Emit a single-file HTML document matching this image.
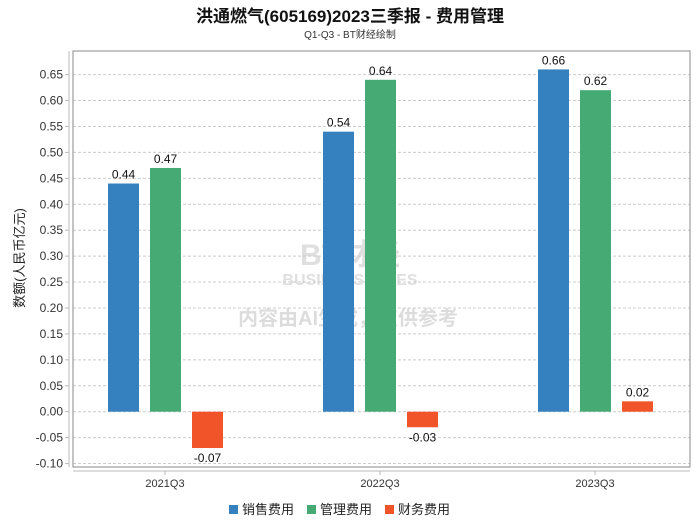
<!DOCTYPE html>
<html><head><meta charset="utf-8"><style>
body{margin:0;background:#fff;font-family:"Liberation Sans","Noto Sans CJK SC",sans-serif}
</style></head><body>
<svg width="700" height="524" xmlns="http://www.w3.org/2000/svg" id="c" font-family="Liberation Sans, Noto Sans CJK SC, sans-serif">
<text x="350" y="22" text-anchor="middle" font-size="17" font-weight="bold" fill="#111">洪通燃气(605169)2023三季报 - 费用管理</text>
<text x="350" y="38" text-anchor="middle" font-size="10" fill="#333">Q1-Q3 - BT财经绘制</text>
<g opacity="0.18">
<text x="350" y="265" text-anchor="middle" font-size="30" font-weight="bold" fill="#555">BT财经</text>
<text x="350" y="285" text-anchor="middle" font-size="16" font-weight="bold" fill="#555">BUSINESS TIMES</text>
<text x="348" y="325" text-anchor="middle" font-size="20" font-weight="bold" fill="#444">内容由AI生成，仅供参考</text>
</g>
<text transform="translate(24,258) rotate(-90)" text-anchor="middle" font-size="13" fill="#222">数额(人民币亿元)</text>
<g id="grid"></g><g id="bars"></g>
<rect x="73" y="51" width="617" height="416" fill="none" stroke="#888"/>
<line x1="69" y1="51" x2="69" y2="467" stroke="#bbb"/>
<line x1="73" y1="471" x2="690" y2="471" stroke="#bbb"/>
<g id="legend" font-size="13" fill="#222"></g>
</svg>
<script>
const categories=["2021Q3","2022Q3","2023Q3"];
const seriesNames=["销售费用","管理费用","财务费用"];
const sales=[0.44,0.54,0.66];
const admin=[0.47,0.64,0.62];
const finance=[-0.07,-0.03,0.02];
const yTicks=[-0.10,-0.05,0.00,0.05,0.10,0.15,0.20,0.25,0.30,0.35,0.40,0.45,0.50,0.55,0.60,0.65];
const colors=["#3580BE","#45AA74","#F05428"];
const NS="http://www.w3.org/2000/svg";
const y=v=>411.7-(v/0.05)*25.93;
const x=i=>165+215*i;
function mk(t,a,p){const e=document.createElementNS(NS,t);for(const k in a)e.setAttribute(k,a[k]);p.appendChild(e);return e;}
const grid=document.getElementById('grid');
yTicks.forEach(v=>{
 const l=mk('line',{x1:73,x2:690,y1:y(v),y2:y(v),stroke:'#ccc','stroke-dasharray':'3,2'},grid);
 
 
 const t=mk('text',{x:63,y:y(v)+4,'text-anchor':'end','font-size':12,fill:'#333'},grid);
 t.textContent=v.toFixed(2);
 
 
 mk('line',{x1:65,x2:69,y1:y(v),y2:y(v),stroke:'#bbb'},grid);
});
const bars=document.getElementById('bars');
const series=[sales,admin,finance];
categories.forEach((c,i)=>{
 const t=mk('text',{x:x(i),y:487,'text-anchor':'middle','font-size':11,fill:'#333'},bars);
 t.textContent=c;
 
 
 mk('line',{x1:x(i),x2:x(i),y1:471,y2:475,stroke:'#bbb'},bars);
 series.forEach((s,j)=>{
  const v=s[i];const bx=x(i)-57+42*j;
  const top=Math.min(y(v),y(0)),h=Math.abs(y(v)-y(0));
  const r=mk('rect',{x:bx,y:top,width:31,height:h,fill:colors[j]},bars);
  
  
  const lt=mk('text',{x:bx+15.5,y:v>=0?y(v)-5:y(v)+14,'text-anchor':'middle','font-size':12,fill:'#111'},bars);
  lt.textContent=v.toFixed(2);
  
  
 });
});
const lg=document.getElementById('legend');
const lx=[229,307,385];
seriesNames.forEach((n,j)=>{
 const g=mk('g',{},lg);
 
 
 mk('rect',{x:lx[j],y:505,width:9,height:9,fill:colors[j]},g);
 const t=mk('text',{x:lx[j]+13,y:514},g);t.textContent=n;
});
</script>
</body></html>
